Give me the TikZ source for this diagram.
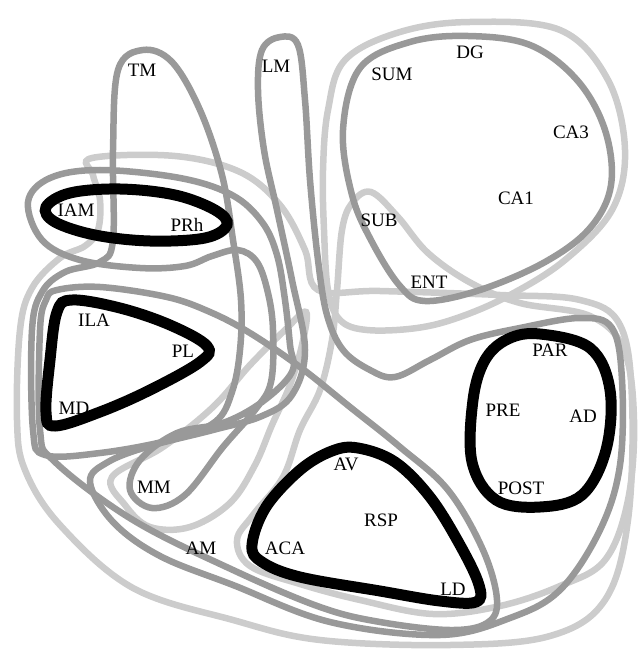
\documentclass[tikz,border=0pt]{standalone}
\usepackage{fontspec}
\setmainfont{Liberation Serif}
\definecolor{dkg}{HTML}{999999}
\definecolor{ltg}{HTML}{CCCCCC}
\tikzset{
  blk/.style={draw=black,line width=11pt},
  dgr/.style={draw=dkg,line width=6.5pt},
  lgr/.style={draw=ltg,line width=6.5pt},
  lab/.style={font=\fontsize{19}{22}\selectfont,inner sep=0pt}
}
\begin{document}
\begin{tikzpicture}[x=1pt,y=-1pt]
\useasboundingbox (0,0) rectangle (638,652);
% light gray loops
\draw[lgr] plot[smooth cycle,tension=0.6] coordinates {(92,158) (175,156) (240,172) (280,205) (305,250) (318,290) (380,291) (500,295) (580,300) (620,325) (632,400) (628,520) (605,600) (550,636) (450,645) (320,640) (233,620) (133,588) (60,525) (25,470) (17,420) (20,330) (32,288) (60,258) (85,246) (98,230) (100,200) (93,175)};
\draw[lgr] plot[smooth cycle,tension=0.6] coordinates {(112,477) (125,505) (150,527) (190,527) (230,503) (255,465) (272,425) (290,385) (302,345) (306,312) (285,330) (250,365) (213,407) (163,447)};
\draw[lgr] plot[smooth cycle,tension=0.6] coordinates {(345,60) (400,32) (470,22) (560,30) (608,80) (625,150) (612,210) (565,260) (510,295) (460,317) (417,328) (367,330) (340,320) (328,290) (324,230) (323,170) (328,110)};
\draw[lgr] plot[smooth cycle,tension=0.6] coordinates {(371,192) (398,217) (428,253) (471,283) (520,303) (590,316) (624,350) (634,420) (628,500) (605,560) (560,586) (500,606) (433,614) (360,600) (300,584) (250,566) (237,540) (253,515) (283,477) (300,430) (320,390) (332,340) (337,290) (342,230) (352,203)};
% dark gray loops
\draw[dgr] plot[smooth cycle,tension=0.6] coordinates {(360,68) (410,42) (468,36) (530,45) (577,80) (605,130) (611,185) (590,228) (545,262) (480,290) (425,301) (400,286) (372,242) (352,195) (343,130)};
\draw[dgr] plot[smooth cycle,tension=0.6] coordinates {(143,50) (172,62) (200,110) (222,175) (233,240) (241,300) (240,350) (232,392) (215,422) (170,440) (100,453) (45,455) (33,430) (32,330) (42,292) (65,272) (100,262) (113,240) (113,150) (118,70)};
\draw[dgr] plot[smooth cycle,tension=0.6] coordinates {(28,202) (50,178) (100,170) (180,178) (232,195) (262,222) (277,255) (285,300) (290,345) (292,372) (262,402) (223,423) (177,433) (140,460) (130,490) (152,508) (185,495) (223,447) (255,410) (271,382) (273,330) (268,293) (257,262) (238,250) (212,256) (185,266) (140,268) (80,260) (42,240)};
\draw[dgr] plot[smooth cycle,tension=0.6] coordinates {(57,290) (100,287) (167,297) (210,312) (250,333) (300,367) (350,407) (400,447) (448,490) (483,550) (497,600) (487,623) (450,630) (380,622) (320,607) (233,570) (133,520) (55,462) (40,430) (40,330) (46,300)};
\draw[dgr] plot[smooth cycle,tension=0.6] coordinates {(280,37) (298,45) (305,100) (310,180) (318,260) (327,315) (343,350) (370,370) (395,377) (430,360) (470,340) (520,328) (580,318) (612,328) (622,380) (620,465) (600,530) (560,590) (510,618) (440,635) (330,622) (233,585) (160,556) (113,522) (90,482) (108,462) (150,446) (213,430) (262,416) (292,395) (305,350) (292,280) (277,210) (264,150) (258,90) (262,50)};
% black loops
\draw[blk] plot[smooth cycle,tension=0.6] coordinates {(46,207) (70,193) (120,189) (175,195) (215,210) (227,225) (205,238) (150,241) (95,235) (55,222)};
\draw[blk] plot[smooth cycle,tension=0.6] coordinates {(72,300) (120,308) (170,325) (207,346) (200,362) (150,390) (100,412) (55,426) (46,412) (50,360) (57,312)};
\draw[blk] plot[smooth cycle,tension=0.6] coordinates {(358,448) (395,462) (430,497) (460,545) (479,585) (476,602) (440,601) (380,591) (300,577) (262,562) (252,545) (266,507) (300,470) (332,451)};
\draw[blk] plot[smooth cycle,tension=0.6] coordinates {(540,334) (590,348) (610,390) (606,450) (582,495) (540,507) (496,500) (472,462) (473,400) (485,360) (508,339)};
% labels
\node[lab] (tm) at (142,70) {TM};
\node[lab] (lm) at (276,66) {LM};
\node[lab] (sum) at (392,74) {SUM};
\node[lab] (dg) at (470,52) {DG};
\node[lab] (ca3) at (571,132) {CA3};
\node[lab] (ca1) at (516,198) {CA1};
\node[lab] (sub) at (379,220) {SUB};
\node[lab] (ent) at (429,282) {ENT};
\node[lab] (iam) at (76,210) {IAM};
\node[lab] (prh) at (187,225) {PRh};
\node[lab] (ila) at (94,320) {ILA};
\node[lab] (pl) at (183,351) {PL};
\node[lab] (md) at (74,408) {MD};
\node[lab] (mm) at (154,487) {MM};
\node[lab] (am) at (201,548) {AM};
\node[lab] (aca) at (285,548) {ACA};
\node[lab] (av) at (346,464) {AV};
\node[lab] (rsp) at (381,520) {RSP};
\node[lab] (ld) at (453,589) {LD};
\node[lab] (par) at (550,350) {PAR};
\node[lab] (pre) at (503,410) {PRE};
\node[lab] (ad) at (583,416) {AD};
\node[lab] (post) at (521,488) {POST};
\end{tikzpicture}
\end{document}
